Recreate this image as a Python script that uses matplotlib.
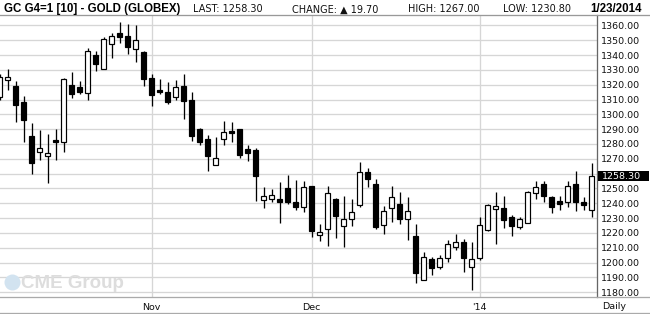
import matplotlib
matplotlib.use("Agg")
import matplotlib.pyplot as plt
from matplotlib.lines import Line2D
from matplotlib.patches import Rectangle
import matplotlib.transforms as mtransforms

# --- Datos (OHLC diario, GC G4) ---
aperturas = [1312.0, 1322.9, 1319.1, 1308.3, 1285.4, 1274.6, 1271.7, 1282.5, 1281.1, 1319.6,
             1318.4, 1314.2, 1340.0, 1330.3, 1347.2, 1354.6, 1352.6, 1343.8, 1341.8, 1324.3,
             1316.3, 1314.9, 1311.8, 1319.0, 1309.5, 1289.9, 1283.2, 1266.0, 1283.6, 1288.6,
             1289.9, 1276.4, 1275.9, 1242.4, 1243.1, 1243.1, 1250.0, 1241.0, 1237.7, 1251.4,
             1218.6, 1222.7, 1243.2, 1224.7, 1229.5, 1238.9, 1261.2, 1252.7, 1225.2, 1236.9,
             1239.8, 1229.2, 1218.2, 1188.2, 1202.7, 1197.0, 1203.3, 1210.5, 1213.9, 1197.0,
             1203.1, 1221.8, 1236.2, 1237.1, 1230.8, 1224.1, 1226.8, 1247.0, 1253.1, 1244.1,
             1241.8, 1241.0, 1252.7, 1241.0, 1235.5]
maximos = [1327.0, 1330.6, 1322.5, 1312.4, 1294.2, 1289.4, 1286.7, 1289.9, 1324.3, 1328.5,
           1322.5, 1344.7, 1342.7, 1351.9, 1354.6, 1362.2, 1360.9, 1360.0, 1342.7, 1327.0,
           1323.7, 1321.7, 1323.0, 1327.1, 1315.1, 1290.6, 1285.9, 1284.5, 1295.5, 1295.1,
           1289.9, 1279.1, 1277.0, 1250.7, 1249.4, 1254.6, 1258.8, 1255.7, 1254.8, 1251.4,
           1226.3, 1252.0, 1243.6, 1245.2, 1243.0, 1268.0, 1263.5, 1256.5, 1238.5, 1252.0,
           1247.7, 1244.3, 1226.3, 1207.2, 1203.8, 1205.1, 1215.5, 1219.3, 1216.0, 1213.9,
           1230.8, 1239.8, 1247.9, 1245.2, 1232.4, 1230.8, 1248.4, 1255.1, 1254.9, 1245.2,
           1245.2, 1254.7, 1262.1, 1244.1, 1267.0]
minimos = [1310.0, 1316.6, 1295.1, 1281.6, 1260.0, 1269.4, 1253.9, 1269.4, 1274.8, 1311.2,
           1313.7, 1309.9, 1329.4, 1330.3, 1337.8, 1347.9, 1340.4, 1335.1, 1319.3, 1305.8,
           1313.8, 1306.8, 1309.7, 1296.7, 1282.0, 1279.1, 1261.8, 1266.0, 1279.3, 1281.4,
           1270.5, 1268.5, 1241.5, 1236.8, 1240.8, 1226.4, 1239.5, 1235.4, 1234.0, 1217.2,
           1214.6, 1211.0, 1216.4, 1210.3, 1224.5, 1237.6, 1250.9, 1222.5, 1219.3, 1227.2,
           1226.3, 1215.0, 1186.2, 1188.2, 1191.4, 1195.7, 1200.2, 1208.3, 1193.4, 1181.7,
           1202.0, 1221.4, 1212.3, 1223.6, 1217.7, 1222.5, 1226.8, 1242.8, 1240.7, 1233.5,
           1235.8, 1237.3, 1235.1, 1235.3, 1230.8]
cierres = [1325.4, 1325.2, 1306.5, 1296.4, 1267.4, 1277.1, 1273.9, 1281.6, 1323.6, 1313.9,
           1315.3, 1342.5, 1333.7, 1350.6, 1352.6, 1351.9, 1345.2, 1349.9, 1323.6, 1312.8,
           1315.1, 1308.4, 1318.7, 1309.1, 1285.4, 1281.4, 1271.9, 1270.3, 1287.9, 1287.4,
           1272.3, 1273.9, 1258.4, 1244.6, 1245.3, 1240.8, 1240.8, 1237.7, 1250.7, 1221.2,
           1220.7, 1247.0, 1231.3, 1229.5, 1234.2, 1261.2, 1256.5, 1223.8, 1234.9, 1244.3,
           1229.2, 1234.9, 1192.7, 1203.8, 1196.4, 1203.3, 1212.6, 1213.9, 1203.1, 1202.4,
           1225.4, 1239.1, 1238.2, 1228.6, 1224.5, 1229.5, 1247.3, 1251.1, 1244.8, 1237.3,
           1239.6, 1251.8, 1240.7, 1238.6, 1258.3]

etiquetas_x = ["Nov", "Dec", "'14"]
posiciones_x = [19, 39, 60]
niveles_y = list(range(1180, 1361, 10))

ultimo = 1258.30
cambio = 19.70
alto_dia = 1267.00
bajo_dia = 1230.80
fecha = "1/23/2014"

W, H = 650, 314
px = 72 / 100  # 1 pixel en puntos

# --- Crear figura ---
fig = plt.figure(figsize=(W / 100, H / 100), dpi=100)
fig.patch.set_facecolor("white")
ax = fig.add_axes([0, (H - 296.7) / H, 597 / W, (296.7 - 15) / H])
ax.set_facecolor("white")

# velas
x = list(range(len(cierres)))
ax.vlines(x, minimos, maximos, color="black", lw=1.3 * px, zorder=3)
for i in x:
    o, c = aperturas[i], cierres[i]
    color = "black" if c < o else "white"
    alto = max(abs(c - o), 0.4)
    ax.bar(i, alto, bottom=min(o, c), width=0.58, facecolor=color,
           edgecolor="black", lw=1.2 * px, zorder=4)

ax.set_xlim(0.04, 74.66)
ax.set_ylim(1177, 1367)

# ejes y rejilla (la etiqueta 1260 queda tapada por el ultimo precio)
ax.set_yticks(niveles_y)
ax.set_yticklabels(["" if abs(v - ultimo) < 5 else "%.2f" % v for v in niveles_y])
ax.yaxis.tick_right()
ax.set_xticks(posiciones_x)
ax.set_xticklabels(etiquetas_x)
ax.grid(True, color="#d6d6d6", lw=1.3 * px, zorder=0)
ax.tick_params(axis="y", length=0, pad=3, labelsize=6.8, labelcolor="#111111")
ax.tick_params(axis="x", length=0, pad=4.5, labelsize=6.8, labelcolor="#111111")
for lado in ["top", "left", "bottom"]:
    ax.spines[lado].set_visible(False)
ax.spines["right"].set_color("#666666")
ax.spines["right"].set_linewidth(1.3 * px)

# etiqueta del ultimo precio
trans = mtransforms.blended_transform_factory(ax.transAxes, ax.transData)
ax.add_patch(Rectangle((1.0017, ultimo - 3.6), 0.085, 7.2, transform=trans,
                       facecolor="black", edgecolor="none", clip_on=False, zorder=5))
ax.text(1.0075, ultimo, "%.2f" % ultimo, transform=trans, color="white",
        fontsize=6.8, va="center", ha="left", zorder=6)

# lineas del marco
def linea_h(y, color):
    fig.add_artist(Line2D([0, 1], [1 - y / H, 1 - y / H], color=color, lw=1.3 * px))

linea_h(15, "#999999")
linea_h(296.7, "#aaaaaa")
linea_h(313, "#aaaaaa")

# --- Cabecera ---
yb = 1 - 12.3 / H
fig.text(4 / W, yb, "GC G4=1 [10] - GOLD (GLOBEX)", fontsize=8.3, fontweight="bold",
         family="Liberation Sans", va="baseline")
fig.text(193 / W, yb, "LAST: %.2f" % ultimo, fontsize=7, va="baseline", color="#111111")
fig.text(292 / W, yb, "CHANGE: \u25b2 %.2f" % cambio, fontsize=7, va="baseline", color="#111111")
fig.text(408 / W, yb, "HIGH: %.2f" % alto_dia, fontsize=7, va="baseline", color="#111111")
fig.text(503 / W, yb, "LOW: %.2f" % bajo_dia, fontsize=7, va="baseline", color="#111111")
fig.text(642 / W, yb, fecha, fontsize=8.3, fontweight="bold", family="Liberation Sans",
         va="baseline", ha="right")

fig.text(602 / W, 1 - 306.7 / H, "Daily", fontsize=6.8, va="center", color="#111111")

# marca de agua
fig.add_artist(Line2D([11.5 / W], [1 - 281.5 / H], marker="o", markersize=16 * px,
                      markerfacecolor="#d2e3f0", markeredgecolor="none", linestyle="none"))
fig.text(21 / W, 1 - 288.3 / H, "CME Group", fontsize=13.5, fontweight="bold",
         family="Liberation Sans", color="#dddddd", va="baseline")

fig.savefig("out.png", dpi=100)
